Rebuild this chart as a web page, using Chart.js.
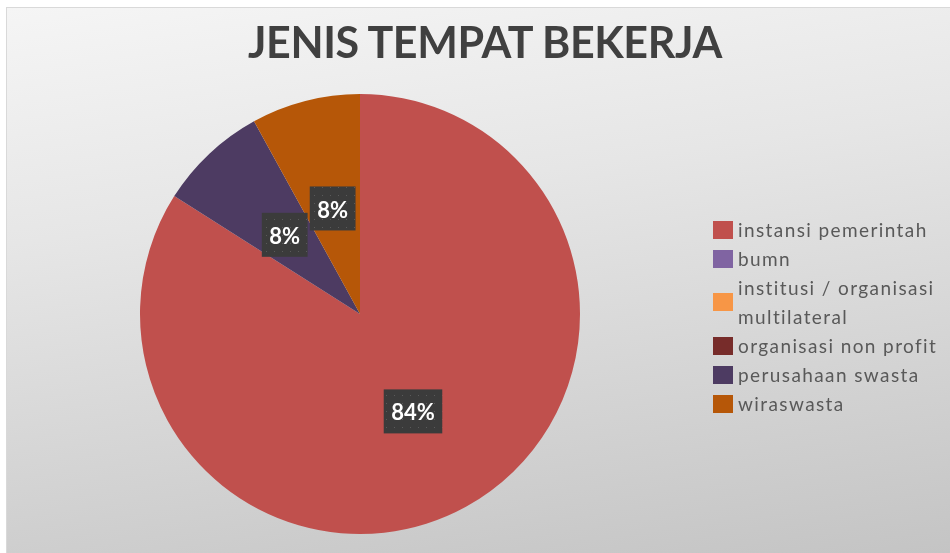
<!DOCTYPE html>
<html>
<head>
<meta charset="utf-8">
<script src="https://cdn.jsdelivr.net/npm/chart.js@4.4.0/dist/chart.umd.min.js"></script>
<style>
    html, body { margin: 0; padding: 0; background: #ffffff; }
    #frame {
        position: absolute; left: 6px; top: 7px; width: 943px; height: 545px;
        border: 1px solid #d9d9d9; border-right: none; border-bottom: none;
        background: linear-gradient(172deg, #f5f5f5 0%, #e6e6e6 35%, #c4c4c4 100%);
        overflow: hidden;
    }
    #chart-title {
        position: absolute; left: 0; top: 8px; width: 956px; text-align: center;
        font-family: Lato, sans-serif; font-weight: bold; font-size: 43px;
        color: #404040; letter-spacing: -0.4px;
    }
    #legend { position: absolute; left: 706px; top: 207px; margin: 0; padding: 0; list-style: none; }
    #legend li {
        position: relative; padding-left: 25px; font-family: Lato, sans-serif;
        font-size: 19px; letter-spacing: 1.4px; line-height: 29px; color: #595959; white-space: nowrap;
    }
    #legend li span {
        position: absolute; left: 0; top: 50%; width: 20px; height: 18px; margin-top: -9px;
    }
    canvas { position: absolute; left: 0; top: 0; }
</style>
</head>
<body>
<div id="frame">
    <canvas id="chart" width="944" height="546"></canvas>
    <div id="chart-title">JENIS TEMPAT BEKERJA</div>
    <ul id="legend"></ul>
</div>
<script>
const categories = [
    'instansi pemerintah',
    'bumn',
    ['institusi / organisasi', 'multilateral'],
    'organisasi non profit',
    'perusahaan swasta',
    'wiraswasta'
];
const counts = [21, 0, 0, 0, 2, 2];
const sliceColors = ['#C0504D', '#8064A2', '#F79646', '#772C2A', '#4D3B62', '#B65708'];

// Legend built from the same arrays
const legendList = document.getElementById('legend');
categories.forEach((cat, i) => {
    const li = document.createElement('li');
    const box = document.createElement('span');
    box.style.background = sliceColors[i];
    li.appendChild(box);
    const lines = Array.isArray(cat) ? cat : [cat];
    lines.forEach((line, j) => {
        if (j > 0) li.appendChild(document.createElement('br'));
        li.appendChild(document.createTextNode(line));
    });
    legendList.appendChild(li);
});

// dotted dark fill for the percentage boxes
function makeLabelPattern(ctx) {
    const tile = document.createElement('canvas');
    tile.width = 8;
    tile.height = 8;
    const t = tile.getContext('2d');
    t.fillStyle = '#3b3b3b';
    t.fillRect(0, 0, 8, 8);
    t.fillStyle = '#5a5a5a';
    t.fillRect(3, 3, 1, 1);
    return ctx.createPattern(tile, 'repeat');
}

const percentLabels = {
    id: 'percentLabels',
    afterDatasetsDraw(chart) {
        const ctx = chart.ctx;
        const data = chart.data.datasets[0].data;
        const total = data.reduce((a, b) => a + b, 0);
        const pattern = makeLabelPattern(ctx);
        chart.getDatasetMeta(0).data.forEach((arc, i) => {
            if (!data[i]) return;
            const pos = arc.tooltipPosition();
            const text = Math.round(data[i] / total * 100) + '%';
            ctx.save();
            ctx.font = 'bold 22px Lato, sans-serif';
            const w = ctx.measureText(text).width + 15;
            const h = 44;
            ctx.fillStyle = pattern;
            ctx.fillRect(pos.x - w / 2, pos.y - h / 2 + 1, w, h);
            ctx.fillStyle = '#ffffff';
            ctx.textAlign = 'center';
            ctx.textBaseline = 'middle';
            ctx.fillText(text, pos.x, pos.y + 3);
            ctx.restore();
        });
    }
};

new Chart(document.getElementById('chart'), {
    type: 'pie',
    data: {
        labels: categories.map(c => Array.isArray(c) ? c.join(' ') : c),
        datasets: [{
            data: counts,
            backgroundColor: sliceColors,
            borderWidth: 0
        }]
    },
    options: {
        responsive: false,
        animation: false,
        layout: { padding: { left: 133, right: 371, top: 86, bottom: 20 } },
        plugins: {
            legend: { display: false },
            title: { display: false },
            tooltip: { enabled: false }
        }
    },
    plugins: [percentLabels]
});
</script>
</body>
</html>
